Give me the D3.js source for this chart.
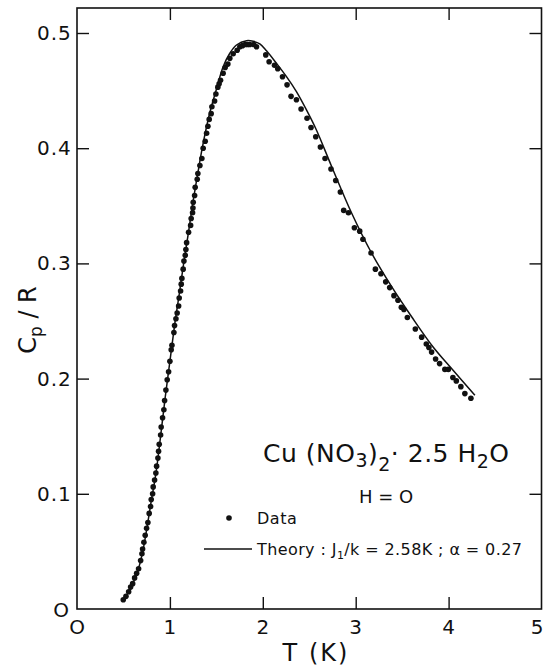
<!DOCTYPE html>
<html><head><meta charset="utf-8">
<script src="https://cdn.jsdelivr.net/npm/d3@7"></script>
<style>
body{margin:0;background:#fff;}
svg text{font-family:"DejaVu Sans","Open Sans",sans-serif;fill:#111;}
</style></head>
<body><svg id="c" width="544" height="667"></svg>
<script>
// Data points (T in K, Cp/R)
const dataT = [0.498,0.527,0.556,0.577,0.599,0.620,0.642,0.663,0.685,0.699,0.706,0.720,0.734,0.749,0.763,0.777,0.792,0.799,0.814,0.820,0.835,0.849,0.857,0.871,0.878,0.885,0.900,0.906,0.921,0.935,0.943,0.957,0.971,0.986,1.000,1.014,1.022,1.043,1.050,1.065,1.078,1.094,1.100,1.115,1.122,1.129,1.143,1.151,1.165,1.172,1.180,1.201,1.223,1.229,1.244,1.248,1.251,1.266,1.272,1.294,1.301,1.323,1.344,1.358,1.380,1.395,1.409,1.423,1.444,1.452,1.481,1.495,1.516,1.530,1.545,1.573,1.595,1.624,1.645,1.681,1.724,1.753,1.781,1.810,1.835,1.860,1.903,1.932,2.032,2.068,2.126,2.161,2.212,2.261,2.304,2.362,2.412,2.476,2.519,2.570,2.620,2.670,2.734,2.785,2.835,2.871,2.922,2.986,3.043,3.078,3.165,3.212,3.272,3.323,3.366,3.412,3.455,3.491,3.519,3.556,3.642,3.710,3.760,3.788,3.817,3.860,3.903,3.960,3.997,4.046,4.083,4.132,4.175,4.240];
const dataC = [0.008,0.011,0.015,0.019,0.022,0.027,0.031,0.035,0.042,0.048,0.052,0.058,0.064,0.070,0.075,0.083,0.089,0.095,0.100,0.106,0.112,0.118,0.124,0.131,0.137,0.143,0.151,0.158,0.166,0.173,0.181,0.190,0.199,0.206,0.215,0.225,0.229,0.240,0.246,0.252,0.257,0.263,0.270,0.276,0.282,0.287,0.295,0.302,0.307,0.312,0.318,0.327,0.333,0.339,0.344,0.348,0.353,0.359,0.366,0.373,0.378,0.385,0.391,0.400,0.406,0.413,0.419,0.425,0.430,0.436,0.441,0.447,0.453,0.456,0.459,0.465,0.470,0.473,0.478,0.482,0.485,0.488,0.489,0.490,0.490,0.490,0.490,0.488,0.481,0.475,0.472,0.469,0.462,0.455,0.445,0.442,0.434,0.426,0.418,0.410,0.401,0.391,0.382,0.372,0.362,0.346,0.344,0.331,0.328,0.321,0.309,0.295,0.291,0.284,0.279,0.272,0.268,0.262,0.260,0.253,0.243,0.236,0.230,0.227,0.223,0.217,0.213,0.208,0.208,0.201,0.198,0.193,0.187,0.183];
// Theory curve
const theoryT = [0.50,0.55,0.60,0.65,0.70,0.75,0.80,0.85,0.90,0.95,1.00,1.05,1.10,1.15,1.20,1.25,1.30,1.35,1.43,1.50,1.573,1.645,1.717,1.825,1.896,1.968,2.040,2.147,2.255,2.362,2.470,2.577,2.742,2.957,3.172,3.387,3.602,3.831,4.046,4.283];
const theoryC = [0.008,0.014,0.022,0.032,0.047,0.069,0.094,0.118,0.150,0.184,0.215,0.246,0.273,0.301,0.327,0.354,0.378,0.401,0.431,0.451,0.4707,0.4824,0.4896,0.4933,0.4928,0.4905,0.4846,0.4737,0.4621,0.4491,0.4332,0.4158,0.3839,0.3435,0.3088,0.2798,0.2537,0.2277,0.2075,0.1855];
const xTicks = [1,2,3,4];
const xTickLabels = ["O","1","2","3","4","5"];
const xLabelVals = [0,1,2,3,4,5];
const yTicks = [0.1,0.2,0.3,0.4,0.5];
const yTickLabels = ["0.1","0.2","0.3","0.4","0.5"];

const svg = d3.select("#c");
const L=77,R=541.5,T=8,B=609;
const x = d3.scaleLinear().domain([0,5]).range([L,R]);
const y = d3.scaleLinear().domain([0,0.5217]).range([B,T]);

// ticks (inward) on all four sides
const tk = 12;
function style(g){g.select(".domain").remove();g.selectAll("line").attr("stroke","#111").attr("stroke-width",1.4);}
svg.append("g").attr("transform",`translate(${L},0)`).call(d3.axisLeft(y).tickValues(yTicks).tickSize(-tk).tickFormat("")).call(style);
svg.append("g").attr("transform",`translate(${R},0)`).call(d3.axisRight(y).tickValues(yTicks).tickSize(-tk).tickFormat("")).call(style);
svg.append("g").attr("transform",`translate(0,${B})`).call(d3.axisBottom(x).tickValues(xTicks).tickSize(-tk).tickFormat("")).call(style);
svg.append("g").attr("transform",`translate(0,${T})`).call(d3.axisTop(x).tickValues(xTicks).tickSize(-tk).tickFormat("")).call(style);

// frame
svg.append("rect").attr("x",L).attr("y",T).attr("width",R-L).attr("height",B-T)
  .attr("fill","none").attr("stroke","#111").attr("stroke-width",1.6);

// y tick labels
svg.append("g").selectAll("text").data(yTicks).join("text")
  .attr("x",37).attr("y",d=>y(d)+7).attr("font-size",20).attr("letter-spacing",1)
  .text((d,i)=>yTickLabels[i]);
svg.append("text").attr("x",61).attr("y",y(0)+8).attr("text-anchor","middle").attr("font-size",20).text("O");

// x tick labels
svg.append("g").selectAll("text").data(xLabelVals).join("text")
  .attr("x",d=>Math.min(x(d),537)).attr("y",B+25).attr("text-anchor","middle").attr("font-size",20)
  .text((d,i)=>xTickLabels[i]);

// axis titles
svg.append("text").attr("x",316).attr("y",661).attr("text-anchor","middle").attr("font-size",24).attr("letter-spacing",2).text("T (K)");
const yl = svg.append("text").attr("transform","translate(36,320) rotate(-90)").attr("text-anchor","middle").attr("font-size",24);
yl.append("tspan").text("C");
yl.append("tspan").attr("font-size",17).attr("dy",6).text("p");
yl.append("tspan").attr("dy",-6).text(" / R");

// theory line
const line = d3.line().x(d=>x(d[0])).y(d=>y(d[1])).curve(d3.curveCatmullRom);
svg.append("path").datum(theoryT.map((t,i)=>[t,theoryC[i]]))
  .attr("d",line).attr("fill","none").attr("stroke","#111").attr("stroke-width",1.5);

// data points
svg.append("g").selectAll("circle").data(dataT.map((t,i)=>[t,dataC[i]])).join("circle")
  .attr("cx",d=>x(d[0])).attr("cy",d=>y(d[1])).attr("r",2.8).attr("fill","#111");

// annotation
const f = svg.append("text").attr("x",263).attr("y",462).attr("font-size",25).attr("letter-spacing",0.5);
f.append("tspan").text("Cu (NO");
f.append("tspan").attr("font-size",19).attr("dy",5).text("3");
f.append("tspan").attr("dy",-5).text(")");
f.append("tspan").attr("font-size",19).attr("dy",9).text("2");
f.append("tspan").attr("dy",-9).text("· 2.5 H");
f.append("tspan").attr("font-size",19).attr("dy",6).text("2");
f.append("tspan").attr("dy",-6).text("O");
svg.append("text").attr("x",386).attr("y",503).attr("text-anchor","middle").attr("font-size",18).text("H = O");

// legend
svg.append("circle").attr("cx",229).attr("cy",518).attr("r",2.8).attr("fill","#111");
svg.append("text").attr("x",257).attr("y",524).attr("font-size",16).attr("letter-spacing",0.5).text("Data");
svg.append("line").attr("x1",204).attr("x2",252).attr("y1",549).attr("y2",549).attr("stroke","#111").attr("stroke-width",1.3);
const th = svg.append("text").attr("x",257).attr("y",555).attr("font-size",16).attr("letter-spacing",0.4);
th.append("tspan").text("Theory : J");
th.append("tspan").attr("font-size",11).attr("dy",4).text("1");
th.append("tspan").attr("dy",-4).text("/k = 2.58K ; α = 0.27");
</script></body></html>
